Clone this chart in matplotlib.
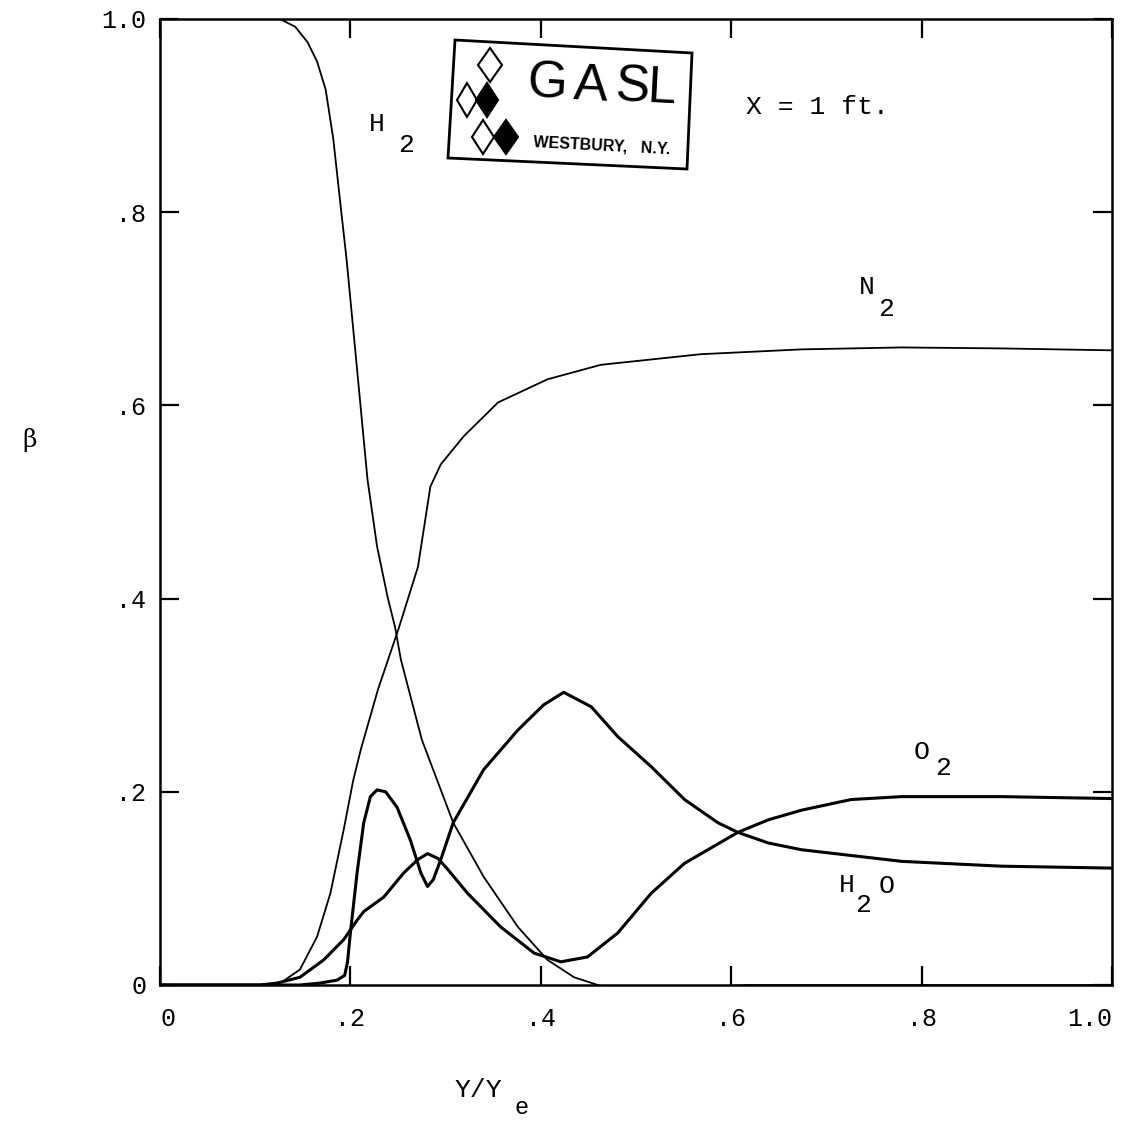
import matplotlib
matplotlib.use("Agg")
import matplotlib.pyplot as plt
from matplotlib.patches import Polygon

# ---- data ----
x_h2 = [0.0, 0.074, 0.126, 0.142, 0.155, 0.165, 0.174, 0.182, 0.189, 0.196, 0.202, 0.208,
        0.213, 0.218, 0.228, 0.239, 0.247, 0.253, 0.275, 0.308, 0.340, 0.376, 0.407, 0.435,
        0.463, 0.505, 0.568, 0.62, 1.0]
y_h2 = [1.0, 1.0, 1.0, 0.992, 0.976, 0.956, 0.927, 0.876, 0.813, 0.751, 0.689, 0.627,
        0.575, 0.523, 0.454, 0.402, 0.370, 0.337, 0.254, 0.168, 0.112, 0.060, 0.026, 0.008,
        -0.001, -0.003, -0.002, 0.0, 0.0]

x_n2 = [0.0, 0.11, 0.128, 0.147, 0.165, 0.179, 0.193, 0.203, 0.211, 0.229, 0.251, 0.271,
        0.284, 0.295, 0.319, 0.355, 0.407, 0.463, 0.568, 0.674, 0.779, 0.884, 1.0]
y_n2 = [0.0, 0.0, 0.003, 0.016, 0.050, 0.095, 0.161, 0.212, 0.244, 0.306, 0.370, 0.433,
        0.516, 0.539, 0.568, 0.603, 0.627, 0.642, 0.653, 0.658, 0.660, 0.659, 0.657]

x_h2o = [0.0, 0.147, 0.168, 0.186, 0.194, 0.197, 0.200, 0.207, 0.214, 0.221, 0.228, 0.237,
         0.249, 0.263, 0.274, 0.281, 0.287, 0.295, 0.308, 0.340, 0.376, 0.403, 0.424, 0.453,
         0.481, 0.516, 0.551, 0.586, 0.607, 0.639, 0.674, 0.779, 0.884, 1.0]
y_h2o = [0.0, 0.0, 0.002, 0.005, 0.010, 0.024, 0.054, 0.116, 0.168, 0.195, 0.202, 0.200,
         0.184, 0.150, 0.116, 0.102, 0.109, 0.130, 0.168, 0.223, 0.264, 0.290, 0.303, 0.288,
         0.257, 0.226, 0.192, 0.168, 0.158, 0.147, 0.140, 0.128, 0.123, 0.121]

x_o2 = [0.0, 0.105, 0.123, 0.147, 0.172, 0.193, 0.207, 0.214, 0.235, 0.256, 0.271, 0.281,
        0.292, 0.302, 0.323, 0.358, 0.393, 0.421, 0.449, 0.481, 0.516, 0.551, 0.607, 0.639,
        0.674, 0.726, 0.779, 0.884, 1.0]
y_o2 = [0.0, 0.0, 0.002, 0.008, 0.026, 0.047, 0.067, 0.076, 0.091, 0.116, 0.130, 0.136,
        0.131, 0.120, 0.095, 0.060, 0.033, 0.024, 0.029, 0.054, 0.095, 0.126, 0.158, 0.171,
        0.181, 0.192, 0.195, 0.195, 0.193]

x_ticks = [0.0, 0.2, 0.4, 0.6, 0.8, 1.0]
x_tick_labels = ["0", ".2", ".4", ".6", ".8", "1.0"]
y_ticks = [0.0, 0.2, 0.4, 0.6, 0.8, 1.0]
y_tick_labels = ["0", ".2", ".4", ".6", ".8", "1.0"]

MONO = "Liberation Mono"

fig = plt.figure(figsize=(11.25, 11.23), dpi=100)
ax = fig.add_axes([160 / 1125, 138 / 1123, 952 / 1125, 966 / 1123])

ax.plot(x_h2, y_h2, color="black", lw=1.3, solid_capstyle="round", solid_joinstyle="round")
ax.plot(x_n2, y_n2, color="black", lw=1.3, solid_capstyle="round", solid_joinstyle="round")
ax.plot(x_h2o, y_h2o, color="black", lw=2.2, solid_capstyle="round", solid_joinstyle="round")
ax.plot(x_o2, y_o2, color="black", lw=2.2, solid_capstyle="round", solid_joinstyle="round")

ax.set_xlim(0, 1)
ax.set_ylim(0, 1)
ax.set_xticks(x_ticks)
ax.set_xticklabels(x_tick_labels, family=MONO, fontsize=18)
ax.set_yticks(y_ticks)
ax.set_yticklabels(y_tick_labels, family=MONO, fontsize=18)
ax.tick_params(direction="in", length=14, width=1.6, top=True, right=True,
               labeltop=False, labelright=False)
ax.tick_params(axis="x", pad=16)
ax.tick_params(axis="y", pad=10)
xlabels = ax.get_xticklabels()
xlabels[0].set_horizontalalignment("left")
xlabels[-1].set_horizontalalignment("right")
for s in ax.spines.values():
    s.set_linewidth(1.8)

# species labels
def species(xb, yb, base, xs, ys, sub, extra=None):
    ax.text(xb, yb, base, family=MONO, fontsize=19, ha="center", va="center")
    ax.text(xs, ys, sub, family=MONO, fontsize=19, ha="center", va="center")
    if extra:
        ax.text(extra[0], extra[1], extra[2], family=MONO, fontsize=19, ha="center", va="center")

species(0.228, 0.891, "H", 0.258, 0.870, "2")
species(0.742, 0.723, "N", 0.763, 0.700, "2")
species(0.800, 0.241, "O", 0.823, 0.225, "2")
species(0.721, 0.104, "H", 0.739, 0.083, "2", (0.763, 0.102, "O"))

ax.text(0.616, 0.909, "X = 1 ft.", family=MONO, fontsize=19, ha="left", va="center")

# axis labels
fig.text(30 / 1125, 1 - 440 / 1123, "β", family="DejaVu Serif", fontsize=18,
         ha="center", va="center")
fig.text(478 / 1125, 1 - 1090 / 1123, "Y/Y", family=MONO, fontsize=19, ha="center", va="center")
fig.text(522 / 1125, 1 - 1108 / 1123, "e", family=MONO, fontsize=17, ha="center", va="center")

# ---- GASL logo overlay (pixel coordinates) ----
ov = fig.add_axes([0, 0, 1, 1], zorder=5)
ov.set_xlim(0, 1125)
ov.set_ylim(1123, 0)
ov.axis("off")
ov.patch.set_alpha(0)

ov.add_patch(Polygon([(455, 40), (692, 53), (687, 169), (448, 158)], closed=True,
                     facecolor="white", edgecolor="black", lw=2.0))

def diamond(cx, cy, hw, hh, filled):
    ov.add_patch(Polygon([(cx, cy - hh), (cx + hw, cy), (cx, cy + hh), (cx - hw, cy)],
                         closed=True, facecolor="black" if filled else "white",
                         edgecolor="black", lw=1.5))

diamond(490, 65, 12, 17, False)
diamond(467, 100, 10, 17, False)
diamond(487, 100, 11, 17, True)
diamond(483, 137, 11, 17, False)
diamond(506, 137, 12, 17, True)

for letter, cx, cy in [("G", 547, 84), ("A", 591, 86), ("S", 632, 88), ("L", 662, 89)]:
    ov.text(cx, cy, letter, family="Liberation Sans", fontsize=37, ha="center", va="center",
            rotation=-3)
ov.text(602, 146, "WESTBURY,   N.Y.", family="Liberation Sans", fontweight="bold",
        fontsize=11.5, ha="center", va="center", rotation=-3)

fig.savefig("out.png", dpi=100, facecolor="white")
